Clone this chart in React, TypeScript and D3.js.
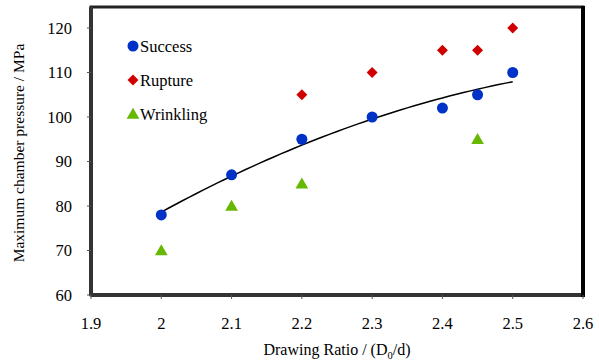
import React from 'react';
import * as d3 from 'd3';

const width = 599;
const height = 361;
const margin = { left: 91, top: 7, right: 16, bottom: 66 };

const xTicks = [1.9, 2, 2.1, 2.2, 2.3, 2.4, 2.5, 2.6];
const yTicks = [60, 70, 80, 90, 100, 110, 120];

const successX = [2, 2.1, 2.2, 2.3, 2.4, 2.45, 2.5];
const successY = [78, 87, 95, 100, 102, 105, 110];
const ruptureX = [2.2, 2.3, 2.4, 2.45, 2.5];
const ruptureY = [105, 110, 115, 115, 120];
const wrinkleX = [2, 2.1, 2.2, 2.45];
const wrinkleY = [70, 80, 85, 95];

const blue = '#0032c8';
const red = '#d00000';
const green = '#66b800';
const font = "'Liberation Serif', 'DejaVu Serif', serif";

// 2nd order least squares fit (like the excel trendline)
function polyFit(xs: number[], ys: number[]) {
  const s = [0, 0, 0, 0, 0];
  const t = [0, 0, 0];
  xs.forEach((x, i) => {
    for (let k = 0; k < 5; k++) s[k] += Math.pow(x, k);
    for (let k = 0; k < 3; k++) t[k] += ys[i] * Math.pow(x, k);
  });
  const m = [
    [s[0], s[1], s[2], t[0]],
    [s[1], s[2], s[3], t[1]],
    [s[2], s[3], s[4], t[2]],
  ];
  for (let i = 0; i < 3; i++) {
    for (let j = i + 1; j < 3; j++) {
      const f = m[j][i] / m[i][i];
      for (let k = i; k < 4; k++) m[j][k] -= f * m[i][k];
    }
  }
  const c = [0, 0, 0];
  for (let i = 2; i >= 0; i--) {
    let v = m[i][3];
    for (let k = i + 1; k < 3; k++) v -= m[i][k] * c[k];
    c[i] = v / m[i][i];
  }
  return (x: number) => c[0] + c[1] * x + c[2] * x * x;
}

export default function App() {
  const x = d3.scaleLinear().domain([1.9, 2.6]).range([margin.left, width - margin.right]);
  const y = d3.scaleLinear().domain([60, 120]).range([295, 28]);
  const top = margin.top;
  const bottom = y(60);

  const fit = polyFit(successX, successY);
  const trendXs = d3.range(2, 2.5001, 0.01);
  const line = d3.line<number>().x(d => x(d)).y(d => y(fit(d)));

  const diamond = d3.symbol().type(d3.symbolSquare).size(60)();
  const tri = d3.symbol().type(d3.symbolTriangle).size(70)();

  const legend = [
    { name: 'Success', kind: 'c', color: blue },
    { name: 'Rupture', kind: 'd', color: red },
    { name: 'Wrinkling', kind: 't', color: green },
  ];

  const marker = (kind: string, cx: number, cy: number, color: string, key: any) => {
    if (kind === 'c') return <circle key={key} cx={cx} cy={cy} r={5.5} fill={color} />;
    if (kind === 'd')
      return <path key={key} d={diamond!} transform={`translate(${cx},${cy}) rotate(45)`} fill={color} />;
    return <path key={key} d={tri!} transform={`translate(${cx},${cy + 1})`} fill={color} />;
  };

  return (
    <svg width={width} height={height} style={{ position: 'absolute', left: 0, top: 0, background: '#fff', fontFamily: font }}>
      {/* frame */}
      <rect x={margin.left} y={top} width={x(2.6) - margin.left} height={bottom - top} fill="none" stroke="#222" strokeWidth={3} />
      <line x1={margin.left} x2={margin.left} y1={top} y2={bottom + 1} stroke="#333" strokeWidth={4} />
      <line x1={margin.left} x2={x(2.6) + 1} y1={bottom} y2={bottom} stroke="#333" strokeWidth={4} />
      <line x1={x(2.6)} x2={x(2.6)} y1={top - 1} y2={bottom + 2} stroke="#000" strokeWidth={4} />

      {yTicks.map(t => (
        <g key={t}>
          <line x1={margin.left - 4} x2={margin.left} y1={y(t)} y2={y(t)} stroke="#555" />
          <text x={72} y={y(t)} dy="0.35em" textAnchor="end" fontSize={16.5}>{t}</text>
        </g>
      ))}
      {xTicks.map(t => (
        <g key={t}>
          <line x1={x(t)} x2={x(t)} y1={bottom} y2={bottom + 4} stroke="#555" />
          <text x={x(t)} y={323} dy="0.35em" textAnchor="middle" fontSize={16.5}>{t}</text>
        </g>
      ))}

      <text transform={`translate(24,${(top + bottom) / 2 + 2}) rotate(-90)`} textAnchor="middle" fontSize={15.5}>
        Maximum  chamber pressure / MPa
      </text>
      <text x={337} y={355} textAnchor="middle" fontSize={16}>
        Drawing Ratio / (D<tspan fontSize={10.5} dy={4}>0</tspan><tspan dy={-4}>/d)</tspan>
      </text>

      <path d={line(trendXs)!} fill="none" stroke="#000" strokeWidth={1.5} />

      {ruptureX.map((v, i) => marker('d', x(v), y(ruptureY[i]), red, 'r' + i))}
      {wrinkleX.map((v, i) => marker('t', x(v), y(wrinkleY[i]), green, 'w' + i))}
      {successX.map((v, i) => marker('c', x(v), y(successY[i]), blue, 's' + i))}

      {legend.map((l, i) => (
        <g key={l.name}>
          {marker(l.kind, 133, 46 + i * 34, l.color, 'l' + i)}
          <text x={140} y={46 + i * 34} dy="0.35em" fontSize={16.5}>{l.name}</text>
        </g>
      ))}
    </svg>
  );
}
